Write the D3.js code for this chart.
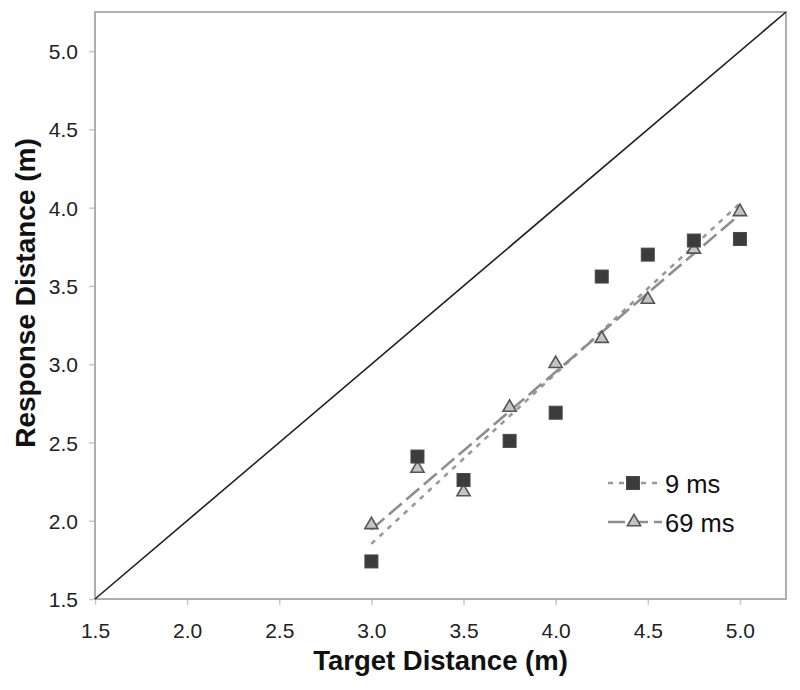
<!DOCTYPE html>
<html>
<head>
<meta charset="utf-8">
<script src="https://cdn.jsdelivr.net/npm/d3@7"></script>
<style>
  html, body { margin: 0; padding: 0; background: #fff; }
  svg { display: block; font-family: Arial, "Liberation Sans", sans-serif; }
</style>
</head>
<body>
<svg id="chart" width="800" height="690"></svg>
<script>
// ---- data ----
const targetDistances = [3.0, 3.25, 3.5, 3.75, 4.0, 4.25, 4.5, 4.75, 5.0];
const response9ms  = [1.74, 2.41, 2.26, 2.51, 2.69, 3.56, 3.70, 3.79, 3.80];
const response69ms = [1.98, 2.34, 2.19, 2.73, 3.01, 3.17, 3.42, 3.74, 3.98];
const seriesNames = ["9 ms", "69 ms"];
const xTicks = [1.5, 2.0, 2.5, 3.0, 3.5, 4.0, 4.5, 5.0];
const yTicks = [1.5, 2.0, 2.5, 3.0, 3.5, 4.0, 4.5, 5.0];
const axisMin = 1.5, axisMax = 5.25;
const xTitle = "Target Distance (m)";
const yTitle = "Response Distance (m)";

// ---- layout ----
const svg = d3.select("#chart");
const m = { left: 95, top: 12, right: 786, bottom: 599 };
const x = d3.scaleLinear().domain([axisMin, axisMax]).range([m.left, m.right]);
const y = d3.scaleLinear().domain([axisMin, axisMax]).range([m.bottom, m.top]);

// linear regression (trendline) computed from the data
function fit(xs, ys) {
  const n = xs.length, mx = d3.mean(xs), my = d3.mean(ys);
  let sxy = 0, sxx = 0;
  for (let i = 0; i < n; i++) { sxy += (xs[i]-mx)*(ys[i]-my); sxx += (xs[i]-mx)**2; }
  const b = sxy / sxx, a = my - b*mx;
  return v => a + b*v;
}

// axes
const xAxis = d3.axisBottom(x).tickValues(xTicks).tickFormat(d3.format(".1f")).tickSize(6).tickSizeOuter(0);
const yAxis = d3.axisLeft(y).tickValues(yTicks).tickFormat(d3.format(".1f")).tickSize(6).tickSizeOuter(0);

const gx = svg.append("g").attr("transform", `translate(0,${m.bottom})`).call(xAxis);
const gy = svg.append("g").attr("transform", `translate(${m.left},0)`).call(yAxis);
[gx, gy].forEach(g => {
  g.select(".domain").remove();
  g.selectAll(".tick line").attr("stroke", "#c8c8c8").attr("stroke-width", 1.5);
  g.selectAll(".tick text").attr("fill", "#222").attr("font-size", 21)
    .attr("font-family", "Arial, 'Liberation Sans', sans-serif");
});
gx.selectAll(".tick text").attr("dy", 0).attr("y", 39);
gy.selectAll(".tick text").attr("x", -17).attr("dy", "0.36em");

// plot box
svg.append("rect")
  .attr("x", m.left).attr("y", m.top)
  .attr("width", m.right - m.left).attr("height", m.bottom - m.top)
  .attr("fill", "none").attr("stroke", "#a6a6a6").attr("stroke-width", 1.8);

// identity line
svg.append("line")
  .attr("x1", x(axisMin)).attr("y1", y(axisMin))
  .attr("x2", x(axisMax)).attr("y2", y(axisMax))
  .attr("stroke", "#1e1e1e").attr("stroke-width", 1.6);

// trendlines
const styles = [
  { dash: "5,6", color: "#9a9a9a" },
  { dash: "17,6", color: "#8e8e8e" }
];
const allSeries = [response9ms, response69ms];
const x0 = d3.min(targetDistances), x1 = d3.max(targetDistances);
allSeries.forEach((ys, i) => {
  const f = fit(targetDistances, ys);
  svg.append("line")
    .attr("x1", x(x0)).attr("y1", y(f(x0)))
    .attr("x2", x(x1)).attr("y2", y(f(x1)))
    .attr("stroke", styles[i].color).attr("stroke-width", 2.6)
    .attr("stroke-dasharray", styles[i].dash);
});

// markers
const sq = 13;
function drawSquare(g, cx, cy) {
  g.append("rect").attr("x", cx - sq/2).attr("y", cy - sq/2)
    .attr("width", sq).attr("height", sq)
    .attr("fill", "#3c3c3c").attr("stroke", "#4a4a4a").attr("stroke-width", 1);
}
const triPath = d3.symbol().type(d3.symbolTriangle).size(75);
function drawTri(g, cx, cy) {
  g.append("path").attr("d", triPath())
    .attr("transform", `translate(${cx},${cy + 1})`)
    .attr("fill", "#c4c4c4").attr("stroke", "#555").attr("stroke-width", 1.6);
}
const mg = svg.append("g");
response69ms.forEach((v, i) => drawTri(mg, x(targetDistances[i]), y(v)));
response9ms.forEach((v, i) => drawSquare(mg, x(targetDistances[i]), y(v)));

// legend
const lg = svg.append("g");
const legY = [483, 522];
legY.forEach((ly, i) => {
  lg.append("line").attr("x1", 608).attr("x2", 662).attr("y1", ly).attr("y2", ly)
    .attr("stroke", styles[i].color).attr("stroke-width", 2.6)
    .attr("stroke-dasharray", styles[i].dash);
  if (i === 0) drawSquare(lg, 633, ly); else drawTri(lg, 634, ly - 1);
  lg.append("text").attr("x", 665).attr("y", ly + 10)
    .attr("font-size", 25.5).attr("fill", "#111").text(seriesNames[i]);
});

// axis titles
svg.append("text")
  .attr("x", (m.left + m.right) / 2).attr("y", 670)
  .attr("text-anchor", "middle").attr("font-size", 27.5).attr("font-weight", "bold")
  .attr("fill", "#111").text(xTitle);
svg.append("text")
  .attr("transform", `translate(35,293) rotate(-90)`)
  .attr("text-anchor", "middle").attr("font-size", 28).attr("font-weight", "bold")
  .attr("fill", "#111").text(yTitle);
</script>
</body>
</html>
